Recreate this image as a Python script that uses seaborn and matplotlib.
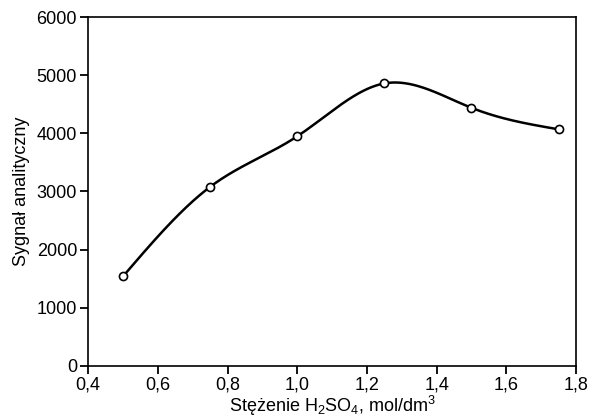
import matplotlib
matplotlib.use("Agg")
import matplotlib.pyplot as plt
import numpy as np
import pandas as pd
import seaborn as sns

# Measured points
concentration = [0.5, 0.75, 1.0, 1.25, 1.5, 1.75]
signal = [1540, 3080, 3950, 4860, 4440, 4070]

# Axis ticks
x_ticks = [0.4, 0.6, 0.8, 1.0, 1.2, 1.4, 1.6, 1.8]
x_tick_labels = ["0,4", "0,6", "0,8", "1,0", "1,2", "1,4", "1,6", "1,8"]
y_ticks = [0, 1000, 2000, 3000, 4000, 5000, 6000]


def natural_spline(x, y, n=400):
    # Natural cubic spline through the measured points (for the smooth curve)
    x = np.asarray(x, dtype=float)
    y = np.asarray(y, dtype=float)
    k = len(x)
    h = np.diff(x)
    A = np.zeros((k, k))
    b = np.zeros(k)
    A[0, 0] = 1
    A[-1, -1] = 1
    for i in range(1, k - 1):
        A[i, i - 1] = h[i - 1]
        A[i, i] = 2 * (h[i - 1] + h[i])
        A[i, i + 1] = h[i]
        b[i] = 6 * ((y[i + 1] - y[i]) / h[i] - (y[i] - y[i - 1]) / h[i - 1])
    M = np.linalg.solve(A, b)
    xs = np.linspace(x[0], x[-1], n)
    idx = np.clip(np.searchsorted(x, xs) - 1, 0, k - 2)
    x0, x1 = x[idx], x[idx + 1]
    y0, y1 = y[idx], y[idx + 1]
    m0, m1 = M[idx], M[idx + 1]
    hh = x1 - x0
    t0 = x1 - xs
    t1 = xs - x0
    ys = (m0 * t0**3 + m1 * t1**3) / (6 * hh) \
        + (y0 / hh - m0 * hh / 6) * t0 + (y1 / hh - m1 * hh / 6) * t1
    return xs, ys


sns.set_style("ticks")
plt.rcParams["font.family"] = ["Liberation Sans", "DejaVu Sans"]
plt.rcParams["mathtext.fontset"] = "custom"
plt.rcParams["mathtext.rm"] = "Liberation Sans"
plt.rcParams["mathtext.it"] = "Liberation Sans"
plt.rcParams["text.color"] = "black"
plt.rcParams["axes.labelcolor"] = "black"
plt.rcParams["xtick.color"] = "black"
plt.rcParams["ytick.color"] = "black"

points = pd.DataFrame({"x": concentration, "y": signal})
xs, ys = natural_spline(concentration, signal)
curve = pd.DataFrame({"x": xs, "y": ys})

fig, ax = plt.subplots(figsize=(5.92, 4.19), dpi=100)
fig.subplots_adjust(left=0.149, right=0.973, bottom=0.127, top=0.959)

sns.lineplot(data=curve, x="x", y="y", ax=ax, color="black", linewidth=1.8,
             sort=False, estimator=None)
sns.scatterplot(data=points, x="x", y="y", ax=ax, s=34, color="white",
                edgecolor="black", linewidth=1.2, zorder=3)

ax.set_xlim(0.4, 1.8)
ax.set_ylim(0, 6000)
ax.set_xticks(x_ticks)
ax.set_xticklabels(x_tick_labels)
ax.set_yticks(y_ticks)

ax.tick_params(axis="both", labelsize=13, length=6, width=1.3, color="black",
               labelcolor="black", pad=2)
ax.tick_params(top=False, right=False)
for spine in ax.spines.values():
    spine.set_linewidth(1.2)
    spine.set_color("black")

ax.set_xlabel("Stężenie H$_2$SO$_4$, mol/dm$^3$", fontsize=13, labelpad=0)
ax.set_ylabel("Sygnał analityczny", fontsize=13, labelpad=5)

fig.savefig("out.png", dpi=100)
